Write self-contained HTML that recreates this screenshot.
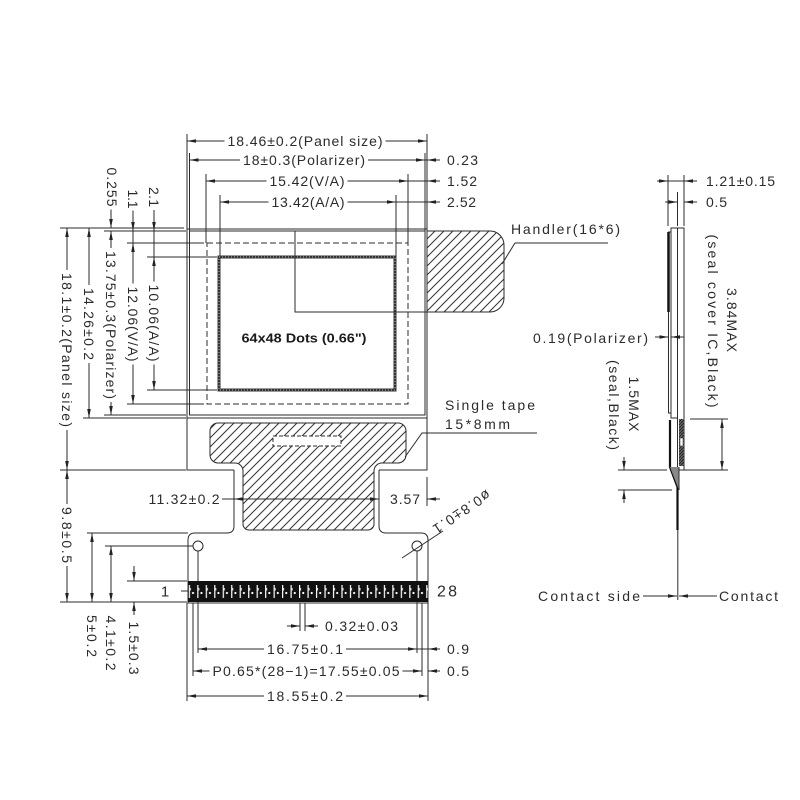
<!DOCTYPE html>
<html><head><meta charset="utf-8">
<style>
html,body{margin:0;padding:0;background:#fff}
svg{display:block}
.t{font-family:"Liberation Sans",sans-serif;font-size:14px;fill:#2b2b2b}
.b{font-weight:bold;font-size:13px;fill:#1a1a1a}
</style></head>
<body>
<svg width="800" height="800" viewBox="0 0 800 800" xmlns="http://www.w3.org/2000/svg">
<defs>
<marker id="a" viewBox="0 -2 9 4" refX="9" refY="0" markerWidth="9" markerHeight="4" markerUnits="userSpaceOnUse" orient="auto-start-reverse"><path d="M0,-1.8L9,0L0,1.8z" fill="#222"/></marker>
<pattern id="hh" patternUnits="userSpaceOnUse" width="9" height="9"><path d="M-1,10L10,-1M-1,1L1,-1M8,10L10,8" stroke="#333" stroke-width="1" fill="none"/></pattern>
<pattern id="dk" patternUnits="userSpaceOnUse" width="3" height="3"><rect width="3" height="3" fill="#666"/><path d="M-1,4L4,-1" stroke="#222" stroke-width="1"/></pattern>
<pattern id="cp" patternUnits="userSpaceOnUse" x="188.76" y="581" width="8.48" height="21">
<rect x="0" y="4" width="1.2" height="13" fill="#fff"/>
<rect x="1.2" y="7" width="0.9" height="2.5" fill="#fff"/>
<circle cx="4.24" cy="12" r="1.1" fill="#fff"/>
</pattern>
</defs>

<g fill="none" stroke="#2b2b2b" stroke-width="1">
<!-- ===== TOP DIMENSIONS ===== -->
<path d="M187,134V229 M189.5,153V231 M206,174V243 M220,195V257 M396,195V257 M408,174V243 M425,153V231 M427,134V229"/>
<path d="M187,141H427" marker-start="url(#a)" marker-end="url(#a)"/>
<path d="M189.5,160H425" marker-start="url(#a)" marker-end="url(#a)"/>
<path d="M206,181H408" marker-start="url(#a)" marker-end="url(#a)"/>
<path d="M220,202H396" marker-start="url(#a)" marker-end="url(#a)"/>
<path d="M425,160H427 M408,181H427 M396,202H427"/>
<path d="M440,160H427" marker-end="url(#a)"/>
<path d="M440,181H427" marker-end="url(#a)"/>
<path d="M440,202H427" marker-end="url(#a)"/>

<!-- ===== LEFT DIMENSIONS ===== -->
<path d="M60,228H184 M104,231H186 M127,243H204 M147,257H217 M147,390H217 M127,404H204 M104,415H186 M83,418H186 M60,470H186"/>
<path d="M67,228V470" marker-start="url(#a)" marker-end="url(#a)"/>
<path d="M67,470V602" marker-start="url(#a)" marker-end="url(#a)"/>
<path d="M89,228V418" marker-start="url(#a)" marker-end="url(#a)"/>
<path d="M111,207V228" marker-end="url(#a)"/>
<path d="M111,231V415" marker-start="url(#a)" marker-end="url(#a)"/>
<path d="M133,210V231" marker-end="url(#a)"/>
<path d="M133,231V243"/>
<path d="M133,243V404" marker-start="url(#a)" marker-end="url(#a)"/>
<path d="M154,210V231" marker-end="url(#a)"/>
<path d="M154,231V257"/>
<path d="M154,257V390" marker-start="url(#a)" marker-end="url(#a)"/>

<!-- ===== FPC ===== -->
<path d="M234,470V526Q234,533 227,533H195Q188,533 188,540V603H428V540Q428,533 421,533H386Q379,533 379,526V470"/>
<circle cx="198" cy="546" r="5"/>
<circle cx="417" cy="546" r="5"/>
<path d="M198,551V653 M417,551V653 M193,546H183"/>
<path d="M402,558L443,531"/>

<!-- ===== PANEL ===== -->
<path d="M234,470H187V229H427V470H379"/>
<rect x="189.5" y="231" width="235.5" height="184"/>
<path d="M187,418H427"/>
<rect x="207" y="243" width="201" height="161" stroke-dasharray="6,3"/>
<rect x="219" y="257" width="176" height="133" stroke-width="3" stroke="#333"/>
<rect x="219" y="257" width="176" height="133" stroke-width="1" stroke="#bbb" stroke-dasharray="1,2"/>
<path d="M295,231V312H427"/>
<path d="M427,231H490A14,14 0 0 1 504,245V298A14,14 0 0 1 490,312H427Z" fill="url(#hh)"/>
<path d="M502,264L515,243H608"/>

<!-- tape -->
<path d="M218,423H398A8,8 0 0 1 406,431V455A8,8 0 0 1 398,463H382A8,8 0 0 0 374,471V524A6,6 0 0 1 368,530H249A6,6 0 0 1 243,524V471A8,8 0 0 0 235,463H218A8,8 0 0 1 210,455V431A8,8 0 0 1 218,423Z" fill="url(#hh)"/>
<rect x="273" y="436" width="68" height="10" stroke-dasharray="4,2" fill="#fff"/>
<path d="M537,433H422L405,457"/>

<!-- 11.32 / 3.57 -->
<path d="M222,499H234"/>
<path d="M234,499H379" marker-start="url(#a)" marker-end="url(#a)"/>
<path d="M427,477V506"/>
<path d="M440,499H427" marker-end="url(#a)"/>

<!-- ===== BOTTOM LEFT DIMS ===== -->
<path d="M87,533H188 M105,546H193 M127,581H187 M60,602H187"/>
<path d="M92,533V602" marker-start="url(#a)" marker-end="url(#a)"/>
<path d="M111,546V602" marker-start="url(#a)" marker-end="url(#a)"/>
<path d="M134,566V581" marker-end="url(#a)"/>
<path d="M134,615V602" marker-end="url(#a)"/>
<path d="M181,591H189"/>

<!-- ===== BOTTOM DIMS ===== -->
<path d="M187,603V701 M193,603V676 M300,603V631 M305,603V631 M422,603V676 M428,603V701"/>
<path d="M287,626H300" marker-end="url(#a)"/>
<path d="M318,626H305" marker-end="url(#a)"/>
<path d="M198,649H417" marker-start="url(#a)" marker-end="url(#a)"/>
<path d="M440,649H428" marker-end="url(#a)"/>
<path d="M417,649H428"/>
<path d="M193,671H422" marker-start="url(#a)" marker-end="url(#a)"/>
<path d="M440,671H428" marker-end="url(#a)"/>
<path d="M187,696H428" marker-start="url(#a)" marker-end="url(#a)"/>

<!-- ===== SIDE VIEW ===== -->
<path d="M668,175V226 M677.5,192V226 M684,175V226"/>
<path d="M657,181H668" marker-end="url(#a)"/>
<path d="M697,181H684" marker-end="url(#a)"/>
<path d="M668,181H684"/>
<path d="M665,202H677.5" marker-end="url(#a)"/>
<path d="M697,202H684" marker-end="url(#a)"/>
<rect x="668.5" y="232" width="2.5" height="181"/>
<path d="M668.5,232V312" stroke-width="2.5" stroke="#111"/>
<rect x="671" y="228" width="6.5" height="190"/>
<rect x="677.5" y="228" width="6.5" height="242"/>
<rect x="679" y="419" width="5" height="47" fill="url(#dk)" stroke="none"/>
<rect x="680" y="438" width="3" height="8" fill="#fff" stroke="#444" stroke-width="0.6"/>
<path d="M670,420V467 L677.5,487 V530" stroke-width="2.2" stroke="#111"/>
<path d="M670,467L679,467L679,490Z" fill="#888" stroke="none"/>
<path d="M679,467V490 M677.8,530V600"/>
<path d="M655,337H668.5" marker-end="url(#a)"/>
<path d="M684,337H671" marker-end="url(#a)"/>
<path d="M690,419H728 M684,470H728"/>
<path d="M722,419V470" marker-start="url(#a)" marker-end="url(#a)"/>
<path d="M618,470H667 M618,490H672"/>
<path d="M624,457V470" marker-end="url(#a)"/>
<path d="M624,503V490" marker-end="url(#a)"/>
<path d="M643,596H677" marker-end="url(#a)"/>
<path d="M717,596H679" marker-end="url(#a)"/>
</g>

<!-- contacts band -->
<rect x="188" y="581" width="240" height="21" fill="#111"/>
<rect x="188" y="581" width="240" height="21" fill="url(#cp)"/>

<!-- white backgrounds behind labels on lines -->
<g fill="#fff" stroke="none">
<rect x="224.5" y="134" width="161" height="14"/>
<rect x="240" y="153" width="128" height="14"/>
<rect x="266.5" y="174" width="81" height="14"/>
<rect x="268.5" y="195" width="79" height="14"/>
<rect x="264" y="642" width="82" height="14"/>
<rect x="209.5" y="664" width="193" height="14"/>
<rect x="264" y="689" width="82" height="14"/>
<rect x="105" y="164.5" width="14" height="45"/>
<rect x="126" y="187.5" width="14" height="23"/>
<rect x="147" y="184" width="14" height="26"/>
<rect x="60" y="270" width="14" height="160"/>
<rect x="82" y="285" width="14" height="78"/>
<rect x="104" y="248" width="14" height="154"/>
<rect x="126" y="283.5" width="14" height="81"/>
<rect x="147" y="281.5" width="14" height="83"/>
<rect x="60" y="504" width="14" height="62"/>
</g>

<!-- ===== TEXT ===== -->
<g class="t">
<text class="t" x="305" y="141" text-anchor="middle" dominant-baseline="central" textLength="155" lengthAdjust="spacing">18.46±0.2(Panel size)</text>
<text class="t" x="304" y="160" text-anchor="middle" dominant-baseline="central" textLength="122" lengthAdjust="spacing">18±0.3(Polarizer)</text>
<text class="t" x="307" y="181" text-anchor="middle" dominant-baseline="central" textLength="75" lengthAdjust="spacing">15.42(V/A)</text>
<text class="t" x="308" y="202" text-anchor="middle" dominant-baseline="central" textLength="73" lengthAdjust="spacing">13.42(A/A)</text>
<text class="t" x="447" y="160" dominant-baseline="central" textLength="31" lengthAdjust="spacing">0.23</text>
<text class="t" x="447" y="181" dominant-baseline="central" textLength="30" lengthAdjust="spacing">1.52</text>
<text class="t" x="447" y="202" dominant-baseline="central" textLength="29" lengthAdjust="spacing">2.52</text>

<text class="t" transform="translate(112,187) rotate(90)" text-anchor="middle" dominant-baseline="central" textLength="39" lengthAdjust="spacing">0.255</text>
<text class="t" transform="translate(133,199) rotate(90)" text-anchor="middle" dominant-baseline="central" textLength="19" lengthAdjust="spacing">1.1</text>
<text class="t" transform="translate(154,197) rotate(90)" text-anchor="middle" dominant-baseline="central" textLength="20" lengthAdjust="spacing">2.1</text>
<text class="t" transform="translate(67,350) rotate(90)" text-anchor="middle" dominant-baseline="central" textLength="154" lengthAdjust="spacing">18.1±0.2(Panel size)</text>
<text class="t" transform="translate(89,324) rotate(90)" text-anchor="middle" dominant-baseline="central" textLength="72" lengthAdjust="spacing">14.26±0.2</text>
<text class="t" transform="translate(111,325) rotate(90)" text-anchor="middle" dominant-baseline="central" textLength="148" lengthAdjust="spacing">13.75±0.3(Polarizer)</text>
<text class="t" transform="translate(133,324) rotate(90)" text-anchor="middle" dominant-baseline="central" textLength="75" lengthAdjust="spacing">12.06(V/A)</text>
<text class="t" transform="translate(154,323) rotate(90)" text-anchor="middle" dominant-baseline="central" textLength="77" lengthAdjust="spacing">10.06(A/A)</text>

<text class="t b" x="304" y="338" text-anchor="middle" dominant-baseline="central" textLength="125" lengthAdjust="spacingAndGlyphs">64x48 Dots (0.66")</text>

<text class="t" x="511" y="229" dominant-baseline="central" textLength="109" lengthAdjust="spacing">Handler(16*6)</text>
<text class="t" x="533" y="338" dominant-baseline="central" textLength="115" lengthAdjust="spacing">0.19(Polarizer)</text>
<text class="t" x="706" y="181" dominant-baseline="central" textLength="69" lengthAdjust="spacing">1.21±0.15</text>
<text class="t" x="706" y="202" dominant-baseline="central" textLength="21" lengthAdjust="spacing">0.5</text>
<text class="t" transform="translate(732,320) rotate(90)" text-anchor="middle" dominant-baseline="central" textLength="64" lengthAdjust="spacing">3.84MAX</text>
<text class="t" transform="translate(713,321) rotate(90)" text-anchor="middle" dominant-baseline="central" textLength="173" lengthAdjust="spacing">(seal cover IC,Black)</text>
<text class="t" transform="translate(634,404) rotate(90)" text-anchor="middle" dominant-baseline="central" textLength="55" lengthAdjust="spacing">1.5MAX</text>
<text class="t" transform="translate(614,405) rotate(90)" text-anchor="middle" dominant-baseline="central" textLength="90" lengthAdjust="spacing">(seal,Black)</text>

<text class="t" x="445" y="405" dominant-baseline="central" textLength="90" lengthAdjust="spacing">Single tape</text>
<text class="t" x="445" y="424" dominant-baseline="central" textLength="65" lengthAdjust="spacing">15*8mm</text>

<text class="t" x="184" y="499" text-anchor="middle" dominant-baseline="central" textLength="71" lengthAdjust="spacing">11.32±0.2</text>
<text class="t" x="405" y="499" text-anchor="middle" dominant-baseline="central" textLength="30" lengthAdjust="spacing">3.57</text>
<text class="t" transform="translate(462,512) rotate(146)" text-anchor="middle" dominant-baseline="central" textLength="66" lengthAdjust="spacing">ø0.8±0.1</text>

<text class="t" x="165" y="592" text-anchor="middle" dominant-baseline="central" style="font-size:15px">1</text>
<text class="t" x="437" y="592" dominant-baseline="central" style="font-size:16px" textLength="20" lengthAdjust="spacing">28</text>

<text class="t" transform="translate(67,535) rotate(90)" text-anchor="middle" dominant-baseline="central" textLength="56" lengthAdjust="spacing">9.8±0.5</text>
<text class="t" transform="translate(92,636) rotate(90)" text-anchor="middle" dominant-baseline="central" textLength="42" lengthAdjust="spacing">5±0.2</text>
<text class="t" transform="translate(111,643) rotate(90)" text-anchor="middle" dominant-baseline="central" textLength="55" lengthAdjust="spacing">4.1±0.2</text>
<text class="t" transform="translate(134,648) rotate(90)" text-anchor="middle" dominant-baseline="central" textLength="53" lengthAdjust="spacing">1.5±0.3</text>

<text class="t" x="325" y="626" dominant-baseline="central" textLength="73" lengthAdjust="spacing">0.32±0.03</text>
<text class="t" x="305" y="649" text-anchor="middle" dominant-baseline="central" textLength="76" lengthAdjust="spacing">16.75±0.1</text>
<text class="t" x="447" y="649" dominant-baseline="central" textLength="22" lengthAdjust="spacing">0.9</text>
<text class="t" x="306" y="671" text-anchor="middle" dominant-baseline="central" textLength="187" lengthAdjust="spacing">P0.65*(28−1)=17.55±0.05</text>
<text class="t" x="447" y="671" dominant-baseline="central" textLength="22" lengthAdjust="spacing">0.5</text>
<text class="t" x="305" y="696" text-anchor="middle" dominant-baseline="central" textLength="76" lengthAdjust="spacing">18.55±0.2</text>

<text class="t" x="538" y="596" dominant-baseline="central" textLength="102" lengthAdjust="spacing">Contact side</text>
<text class="t" x="719" y="596" dominant-baseline="central" textLength="59" lengthAdjust="spacing">Contact</text>
</g>
</svg>
</body></html>
